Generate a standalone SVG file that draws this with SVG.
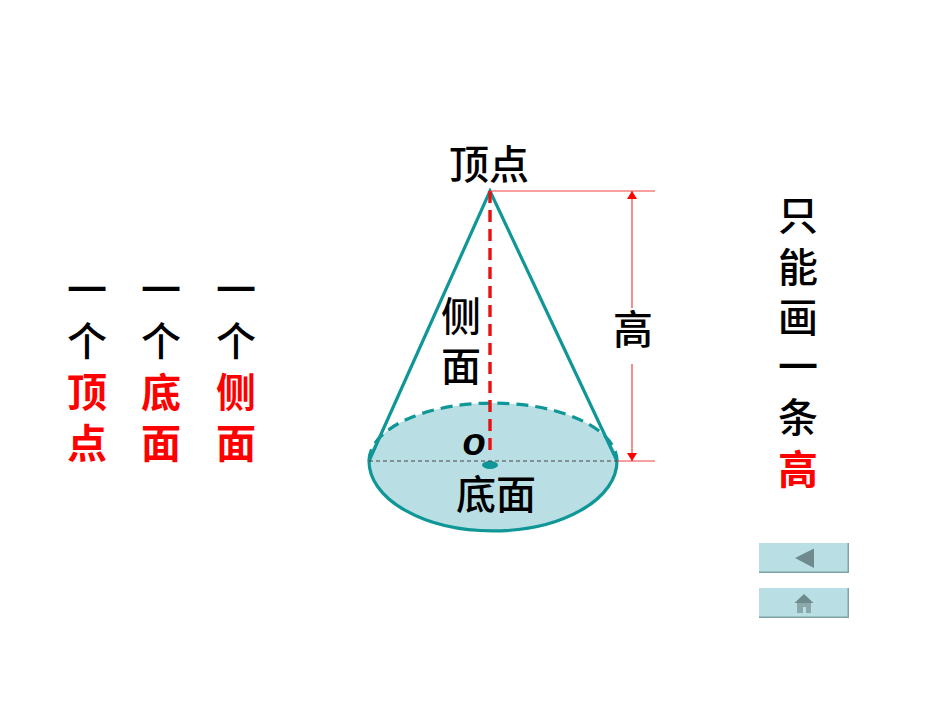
<svg xmlns="http://www.w3.org/2000/svg" width="950" height="713" viewBox="0 0 950 713">
<style>
text{font-family:"Noto Sans CJK SC","Liberation Sans",sans-serif;font-size:40px;font-weight:500;text-anchor:middle;fill:#000}
.r{fill:#f00;font-weight:700}
.teal{fill:none;stroke:#0f9696;stroke-width:3.2}
.dim{stroke:#f04040;stroke-width:1.2;fill:none}
.btn{fill:#b9dfe4}
.sh{fill:#7fa3a6}
.ic{fill:#6f8a8c}
</style>
<defs>
<marker id="ah" viewBox="0 0 8 10" refX="8" refY="5" markerWidth="8" markerHeight="10" markerUnits="userSpaceOnUse" orient="auto-start-reverse"><path d="M0 0L8 5L0 10Z" fill="#f00"/></marker>
</defs>
<rect width="950" height="713" fill="#fff"/>
<g id="left-col-1"><text x="87" y="304">一</text><text x="87" y="356">个</text><text class="r" x="87" y="407">顶</text><text class="r" x="87" y="458">点</text></g>
<g id="left-col-2"><text x="161" y="304">一</text><text x="161" y="356">个</text><text class="r" x="161" y="407">底</text><text class="r" x="161" y="458">面</text></g>
<g id="left-col-3"><text x="236" y="304">一</text><text x="236" y="356">个</text><text class="r" x="236" y="407">侧</text><text class="r" x="236" y="458">面</text></g>
<g id="cone">
<path d="M369 461A124 58 0 0 1 617 461A124 70 0 0 1 369 461Z" fill="#b9dfe4"/>
<path class="teal" d="M369 461A124 70 0 0 0 617 461"/>
<path class="teal" stroke-dasharray="12 7" d="M369 461A124 58 0 0 1 617 461"/>
<path class="teal" d="M369 461L490 191L617 461"/>
<ellipse cx="490" cy="465" rx="8" ry="4" fill="#0f9696"/>
</g>
<g id="connectors">
<path d="M369 461H617" stroke="#444" stroke-width="1.2" stroke-dasharray="4 3" fill="none"/>
<path d="M490 191V454" stroke="#e81010" stroke-width="3.4" stroke-dasharray="12 7" fill="none"/>
<path class="dim" d="M490 191H655"/>
<path class="dim" d="M617 461H655"/>
<path class="dim" marker-end="url(#ah)" d="M632 308V191"/>
<path class="dim" marker-end="url(#ah)" d="M632 364V461"/>
</g>
<g id="label-apex"><text x="489" y="179">顶点</text></g>
<g id="label-side"><text x="461" y="331">侧</text><text x="461" y="381">面</text></g>
<g id="label-height"><text x="633" y="344">高</text></g>
<g id="label-o"><text x="474" y="455" style="font-family:'Liberation Sans',sans-serif;font-weight:700;font-style:italic;font-size:38px">o</text></g>
<g id="label-base"><text x="496" y="509">底面</text></g>
<g id="right-col"><text x="798" y="230">只</text><text x="798" y="282">能</text><text x="798" y="332">画</text><text x="798" y="381">一</text><text x="798" y="432">条</text><text class="r" x="798" y="484">高</text></g>
<g id="btn-back">
<rect class="btn" x="759" y="543" width="90" height="30"/>
<path class="sh" d="M847.500 543H849V573H759V571.500H847.500Z"/>
<path class="ic" d="M795 558L814 548.500V568Z"/>
</g>
<g id="btn-home">
<rect class="btn" x="759" y="588" width="90" height="30"/>
<path class="sh" d="M847.500 588H849V618H759V616.500H847.500Z"/>
<path d="M797 603H811V613H806V607H803V613H797Z" fill="#8aa8ab"/>
<path class="ic" d="M794.500 603L804 594L813.500 603Z"/>
</g>
</svg>
